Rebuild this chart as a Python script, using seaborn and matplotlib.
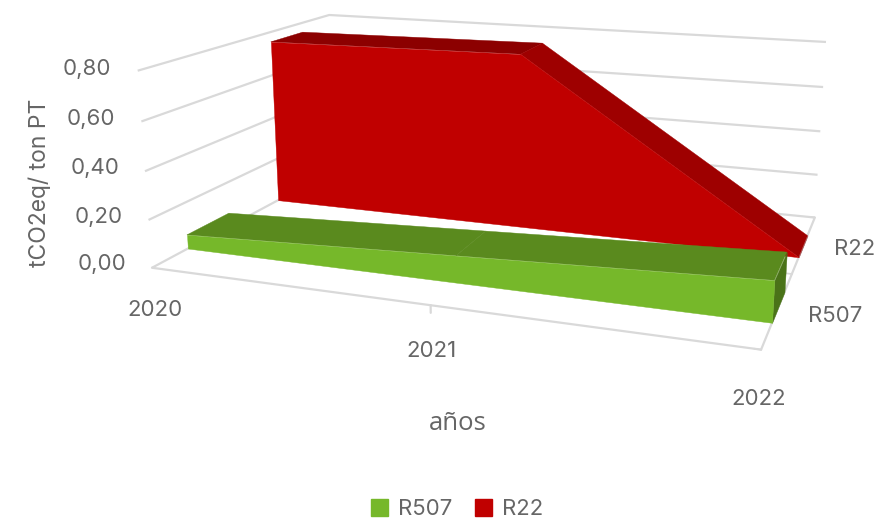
import numpy as np
import pandas as pd
import matplotlib
matplotlib.use('Agg')
import matplotlib.pyplot as plt
from matplotlib.patches import Patch
from mpl_toolkits.mplot3d.art3d import Poly3DCollection
import seaborn as sns

# valores
anios = ['2020', '2021', '2022']
r507 = [0.06, 0.11, 0.16]
r22 = [0.755, 0.77, 0.0]
series = ['R507', 'R22']
ticks_z = [0.0, 0.2, 0.4, 0.6, 0.8]

sns.set_theme(style='white')
plt.rcParams['font.family'] = ['Inter', 'DejaVu Sans']

df = pd.DataFrame({'anio': anios, 'R507': r507, 'R22': r22})

# frente, tapa de cada tramo, lado
colores = {'R507': ('#76B82A', ['#5A8A1E', '#5A8A1E'], '#4A7318'),
           'R22': ('#C00000', ['#8C0000', '#9E0000'], '#800000')}
profundidad = {'R507': (0.32, 0.73), 'R22': (1.27, 1.65)}
gris = '#666666'
linea = '#D9D9D9'

fig = plt.figure(figsize=(8.74, 5.2), dpi=100)
ax = fig.add_subplot(projection='3d', computed_zorder=False)
ax.set_position([0.068, 0.198, 1, 1])
ax.set_proj_type('persp', focal_length=0.45)
ax.view_init(elev=14.3, azim=-70.2)
ax.set_box_aspect((3.05, 2.0, 1.01), zoom=1.34)

x = np.arange(len(anios))


def cinta(valores, y0, y1, claro, medio, oscuro, z):
    v = list(valores)
    xs = list(x)
    frente = [(a, y0, 0) for a in xs] + [(a, y0, b) for a, b in zip(xs[::-1], v[::-1])]
    tapas = [[(xs[i], y0, v[i]), (xs[i + 1], y0, v[i + 1]),
              (xs[i + 1], y1, v[i + 1]), (xs[i], y1, v[i])] for i in range(len(xs) - 1)]
    lado = [(xs[-1], y0, 0), (xs[-1], y1, 0), (xs[-1], y1, v[-1]), (xs[-1], y0, v[-1])]
    for caras, color, orden in (([lado], oscuro, z), (tapas, medio, z + 1), ([frente], claro, z + 2)):
        poli = Poly3DCollection(caras, facecolor=color, edgecolor=color, linewidth=0.3, zorder=orden)
        ax.add_collection3d(poli)
        poli.set_clip_on(False)


cinta(df['R22'], *profundidad['R22'], *colores['R22'], 5)
cinta(df['R507'], *profundidad['R507'], *colores['R507'], 10)

ax.set_xlim(0, 2)
ax.set_ylim(0, 2)
ax.set_zlim(0, 0.8)

ax.set_xticks(x, ['', '', ''])
ax.set_yticks([0, 1, 2], ['', '', ''])
ax.set_zticks(ticks_z, ['' for t in ticks_z])
ax.zaxis.set_ticks_position('lower')

for eje in (ax.xaxis, ax.yaxis, ax.zaxis):
    eje.set_pane_color((1, 1, 1, 0))
    eje.pane.set_edgecolor((1, 1, 1, 0))
    eje._axinfo['grid'].update(color=(1, 1, 1, 0), linewidth=1.6)
    eje._axinfo['tick'].update(inward_factor=0, outward_factor=0.12)
    eje.line.set_color(linea)
    eje.line.set_linewidth(1.6)
    eje.label.set_visible(False)
    eje.offsetText.set_visible(False)
ax.zaxis._axinfo['grid'].update(color=linea)
ax.zaxis.line.set_color((1, 1, 1, 0))
ax.tick_params(axis='x', color=(1, 1, 1, 0))
ax.tick_params(axis='z', color=(1, 1, 1, 0))
ax.tick_params(axis='y', color=linea, width=1.6)

# marcas y etiquetas del eje x hacia abajo, como en el original
for i, a in zip(x, anios):
    ax.plot([i, i], [0, 0], [0, -0.03], color=linea, linewidth=1.6, zorder=1)
    ax.text(i, 0, -0.18, a, fontsize=16, color=gris, ha='center', va='center')
for t in ticks_z:
    ax.text(-0.10, 0, t, f'{t:.2f}'.replace('.', ','), fontsize=16, color=gris, ha='right', va='center')
ax.text(2.17, 0.5, 0, series[0], fontsize=16, color=gris, ha='center', va='center')
ax.text(2.17, 1.5, 0, series[1], fontsize=16, color=gris, ha='center', va='center')

fig.text(0.046, 0.648, 'tCO2eq/ ton PT', rotation=90, fontsize=16.5, color=gris, ha='center', va='center')
fig.text(0.524, 0.185, 'años', fontsize=18.5, color=gris, ha='center', va='center', family='Open Sans')
fig.legend(handles=[Patch(color=colores[s][0], label=s) for s in series], loc='center',
           bbox_to_anchor=(0.523, 0.021), ncol=2, frameon=False, fontsize=16, labelcolor=gris, borderpad=0,
           handlelength=0.76, handleheight=0.76, columnspacing=1.0, handletextpad=0.45)

fig.savefig('out.png', dpi=100)
